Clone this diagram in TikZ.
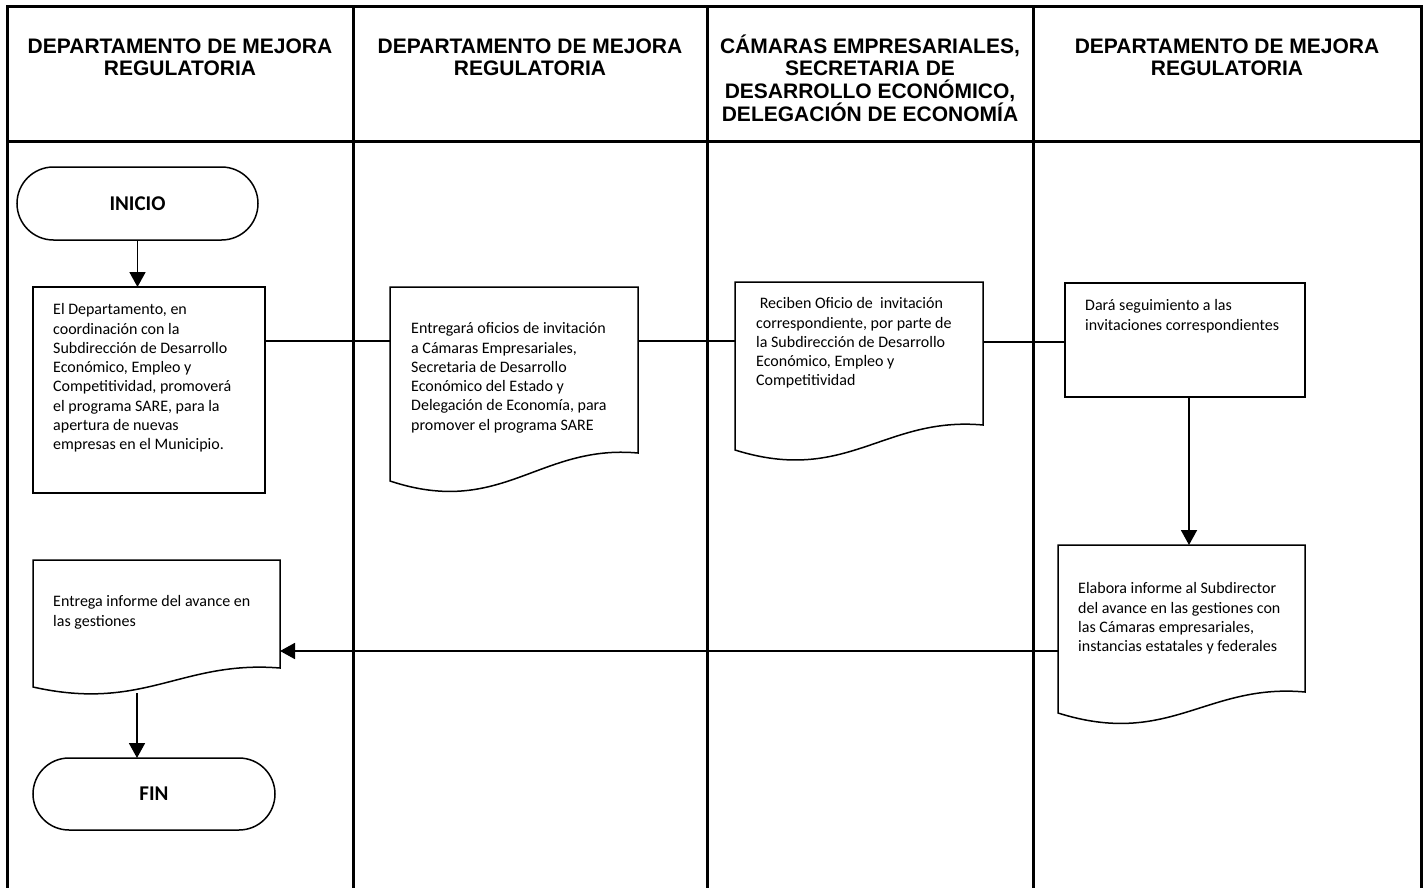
\documentclass[tikz,border=0pt]{standalone}
\usepackage{fontspec}
\setmainfont{Carlito}
\newfontfamily\hdrfont{Liberation Sans}
\usetikzlibrary{shapes.misc,arrows.meta,calc}
\tikzset{
  frameline/.style={line width=3pt, line cap=rect},
  shapeline/.style={line width=1.5pt},
  conn/.style={line width=1.8pt},
  arrowconn/.style={conn, -{Triangle[width=16pt,length=15pt]}},
  procbox/.style={draw, shapeline, rectangle, inner sep=0pt, outer sep=0pt},
  docbox/.style={rectangle, inner sep=0pt, outer sep=0pt},
  termbox/.style={draw, shapeline, rounded rectangle, inner sep=0pt, outer sep=0pt, font=\bfseries\fontsize{21}{24}\selectfont},
  bodytext/.style={anchor=north west, inner sep=0pt, align=left, font=\fontsize{16}{19.3}\selectfont},
  headtext/.style={anchor=north, inner sep=0pt, align=center, font=\hdrfont\bfseries\fontsize{21}{22.8}\selectfont},
}
\newcommand{\hstrut}{\rule{0pt}{20pt}}
% document outline: node, left drop, dip control, rise control
\newcommand{\docoutline}[4]{%
  \draw[shapeline] let \p1=(#1.north west), \p2=(#1.south east), \n1={\x2-\x1} in
    (\p1) -- (\x2,\y1) -- (\p2)
    .. controls ({\x1+0.6*\n1},{\y2-(#2pt)-(#4pt)}) and ({\x1+0.45*\n1},{\y2-(#2pt)-(#3pt)}) ..
    (\x1,{\y2-(#2pt)}) -- cycle;}
\begin{document}
\begin{tikzpicture}[x=1pt,y=-1pt]
\useasboundingbox (0,0) rectangle (1424,888);
\fill[white] (0,0) rectangle (1424,888);
% swimlane frame
\draw[frameline] (7,7) -- (1421,7);
\draw[frameline] (7,142) -- (1421,142);
\foreach \xx in {7,353,707,1033,1421} \draw[frameline] (\xx,7) -- (\xx,894);
% headers
\node[headtext] (h1) at (180,33) {\hstrut DEPARTAMENTO DE MEJORA\\REGULATORIA};
\node[headtext] (h2) at (530,33) {\hstrut DEPARTAMENTO DE MEJORA\\REGULATORIA};
\node[headtext] (h3) at (870,33) {\hstrut CÁMARAS EMPRESARIALES,\\SECRETARIA DE\\DESARROLLO ECONÓMICO,\\DELEGACIÓN DE ECONOMÍA};
\node[headtext] (h4) at (1227,33) {\hstrut DEPARTAMENTO DE MEJORA\\REGULATORIA};
% shapes
\node[termbox, minimum width=241pt, minimum height=73pt] (inicio) at (137.5,203.5) {INICIO};
\node[procbox, minimum width=232pt, minimum height=206pt] (p1) at (149,390) {};
\node[bodytext] (t1) at (53,301) {\strut El Departamento, en\\coordinación con la\\Subdirección de Desarrollo\\Económico, Empleo y\\Competitividad, promoverá\\el programa SARE, para la\\apertura de nuevas\\empresas en el Municipio.};
\node[docbox, minimum width=248pt, minimum height=166pt] (d2) at (514,370) {};
\docoutline{d2}{28}{37}{-37}
\node[bodytext] (t2) at (411,320) {\strut Entregará oficios de invitación\\a Cámaras Empresariales,\\Secretaria de Desarrollo\\Económico del Estado y\\Delegación de Economía, para\\promover el programa SARE};
\node[docbox, minimum width=248pt, minimum height=143pt] (d3) at (859,353.5) {};
\docoutline{d3}{25}{35}{-34}
\node[bodytext] (t3) at (756,295) {\strut\hspace*{0.226em}Reciben Oficio de~ invitación\\correspondiente, por parte de\\la Subdirección de Desarrollo\\Económico, Empleo y\\Competitividad};
\node[procbox, minimum width=240pt, minimum height=114pt] (p4) at (1185,340) {};
\node[bodytext] (t4) at (1085,297) {\strut Dará seguimiento a las\\invitaciones correspondientes};
\node[docbox, minimum width=247pt, minimum height=147pt] (d5) at (1181.5,618.5) {};
\docoutline{d5}{21}{35}{-30}
\node[bodytext] (t5) at (1078,580) {\strut Elabora informe al Subdirector\\del avance en las gestiones con\\las Cámaras empresariales,\\instancias estatales y federales};
\node[docbox, minimum width=247pt, minimum height=108pt] (d6) at (156.5,614) {};
\docoutline{d6}{19}{25}{-27}
\node[bodytext] (t6) at (53,593) {\strut Entrega informe del avance en\\las gestiones};
\node[termbox, minimum width=242pt, minimum height=72pt] (fin) at (154,794) {FIN};
% connectors
\coordinate (yA) at (0,341);
\coordinate (yB) at (0,342);
\coordinate (yC) at (0,651);
\coordinate (p4out) at ([xshift=4pt]p4.south);
\coordinate (d6out) at ([shift={(104,25)}]d6.south west);
\draw[arrowconn] (inicio.south) -- (inicio.south |- p1.north);
\draw[conn] (p1.east |- yA) -- (d2.west |- yA);
\draw[conn] (d2.east |- yA) -- (d3.west |- yA);
\draw[conn] (d3.east |- yB) -- (p4.west |- yB);
\draw[arrowconn] (p4out) -- (p4out |- d5.north);
\draw[arrowconn] (d5.west |- yC) -- (d6.east |- yC);
\draw[arrowconn] (d6out) -- (d6out |- fin.north);
\end{tikzpicture}
\end{document}
